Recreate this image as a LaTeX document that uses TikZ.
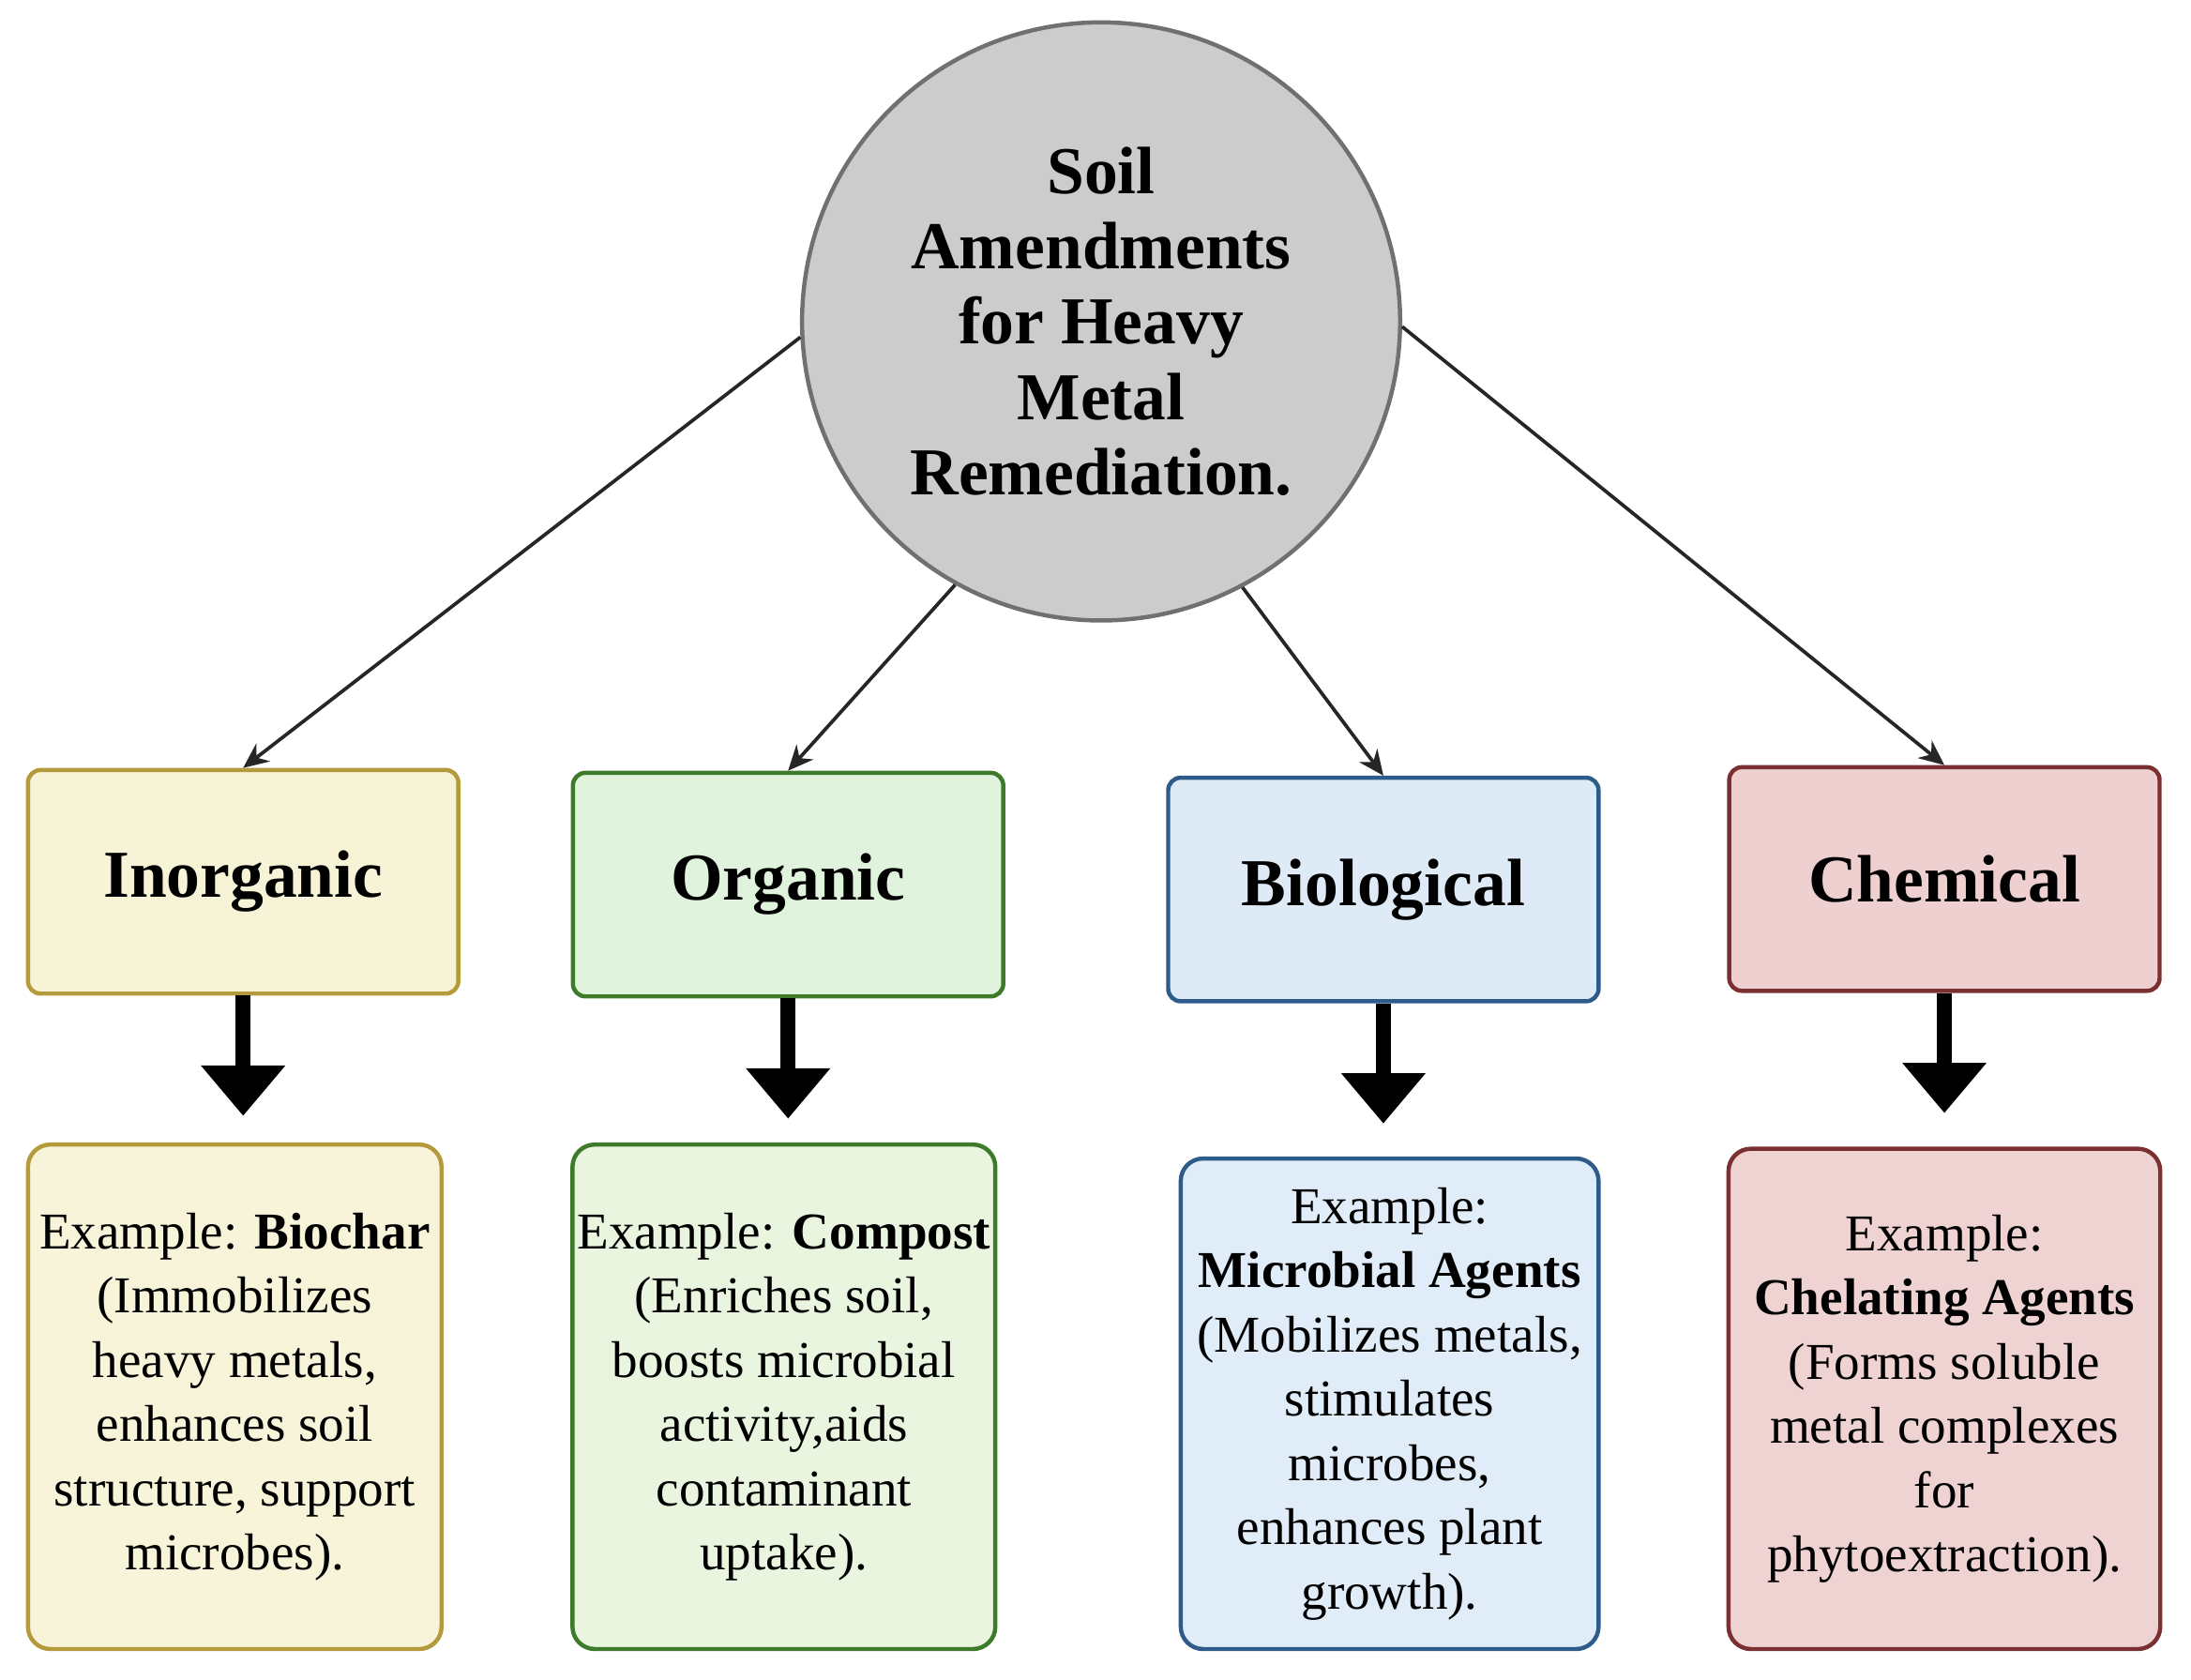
\documentclass[tikz,border=0pt]{standalone}
\usepackage{fontspec}
\setmainfont{Liberation Serif}
\usetikzlibrary{arrows.meta}
\definecolor{cgray}{HTML}{CCCCCC}\definecolor{cgrayb}{HTML}{707070}
\definecolor{yf}{HTML}{F7F3D6}\definecolor{yb}{HTML}{B59A3C}\definecolor{yl}{HTML}{F8F4DA}
\definecolor{gf}{HTML}{E0F3DC}\definecolor{gb}{HTML}{3D7A2A}\definecolor{gl}{HTML}{E9F5DF}
\definecolor{bf}{HTML}{DEEBF7}\definecolor{bb}{HTML}{2E5C8A}\definecolor{bl}{HTML}{E0EDF9}
\definecolor{rf}{HTML}{EED0D0}\definecolor{rb}{HTML}{7A3030}\definecolor{rl}{HTML}{EFD3D3}
\begin{document}
\begin{tikzpicture}[x=1pt,y=-1pt,
 cat/.style={draw,line width=3pt,rounded corners=9pt,minimum width=308pt,minimum height=160pt,font=\fontsize{48}{54}\selectfont\bfseries},
 desc/.style={draw,line width=3pt,rounded corners=16pt,align=center,font=\fontsize{37}{46}\selectfont},
 thin/.style={line width=2.5pt,draw=black!85,-{Stealth[length=18pt,width=16pt]}},
 fat/.style={line width=11pt,-{Triangle[length=36pt,width=58pt]}}]
\useasboundingbox (0,0) rectangle (1568,1202);
\node[circle,draw=cgrayb,fill=cgray,line width=3pt,minimum size=428pt,align=center,
 font=\fontsize{48}{54}\selectfont\bfseries] (c) at (788,230)
 {Soil\\Amendments\\for Heavy\\Metal\\Remediation.};
\node[cat,fill=yf,draw=yb] (i) at (174,631) {Inorganic};
\node[cat,fill=gf,draw=gb] (o) at (564,633) {Organic};
\node[cat,fill=bf,draw=bb] (b) at (990,636.5) {Biological};
\node[cat,fill=rf,draw=rb] (h) at (1391.5,629) {Chemical};
\node[desc,fill=yl,draw=yb,minimum width=296pt,minimum height=361pt] (i2) at (168,999.5)
 {Example: \textbf{Biochar}\\(Immobilizes\\heavy metals,\\enhances soil\\structure, support\\microbes).};
\node[desc,fill=gl,draw=gb,minimum width=302pt,minimum height=361pt] (o2) at (561,999.5)
 {Example: \textbf{Compost}\\(Enriches soil,\\boosts microbial\\activity,aids\\contaminant\\uptake).};
\node[desc,fill=bl,draw=bb,minimum width=299pt,minimum height=351pt] (b2) at (994.5,1004.5)
 {Example:\\\textbf{Microbial Agents}\\(Mobilizes metals,\\stimulates\\microbes,\\enhances plant\\growth).};
\node[desc,fill=rl,draw=rb,minimum width=309pt,minimum height=358pt] (h2) at (1391.5,1001)
 {Example:\\\textbf{Chelating Agents}\\(Forms soluble\\metal complexes\\for\\phytoextraction).};
\draw[thin] (c.183.5) -- (i.north);
\draw[thin] (c.241.8) -- (o.north);
\draw[thin] (c.298) -- (b.north);
\draw[thin] (c.359.5) -- (h.north);
\draw[fat] (i.south) -- ++(0,86);
\draw[fat] (o.south) -- ++(0,86);
\draw[fat] (b.south) -- ++(0,86);
\draw[fat] (h.south) -- ++(0,86);
\end{tikzpicture}
\end{document}
